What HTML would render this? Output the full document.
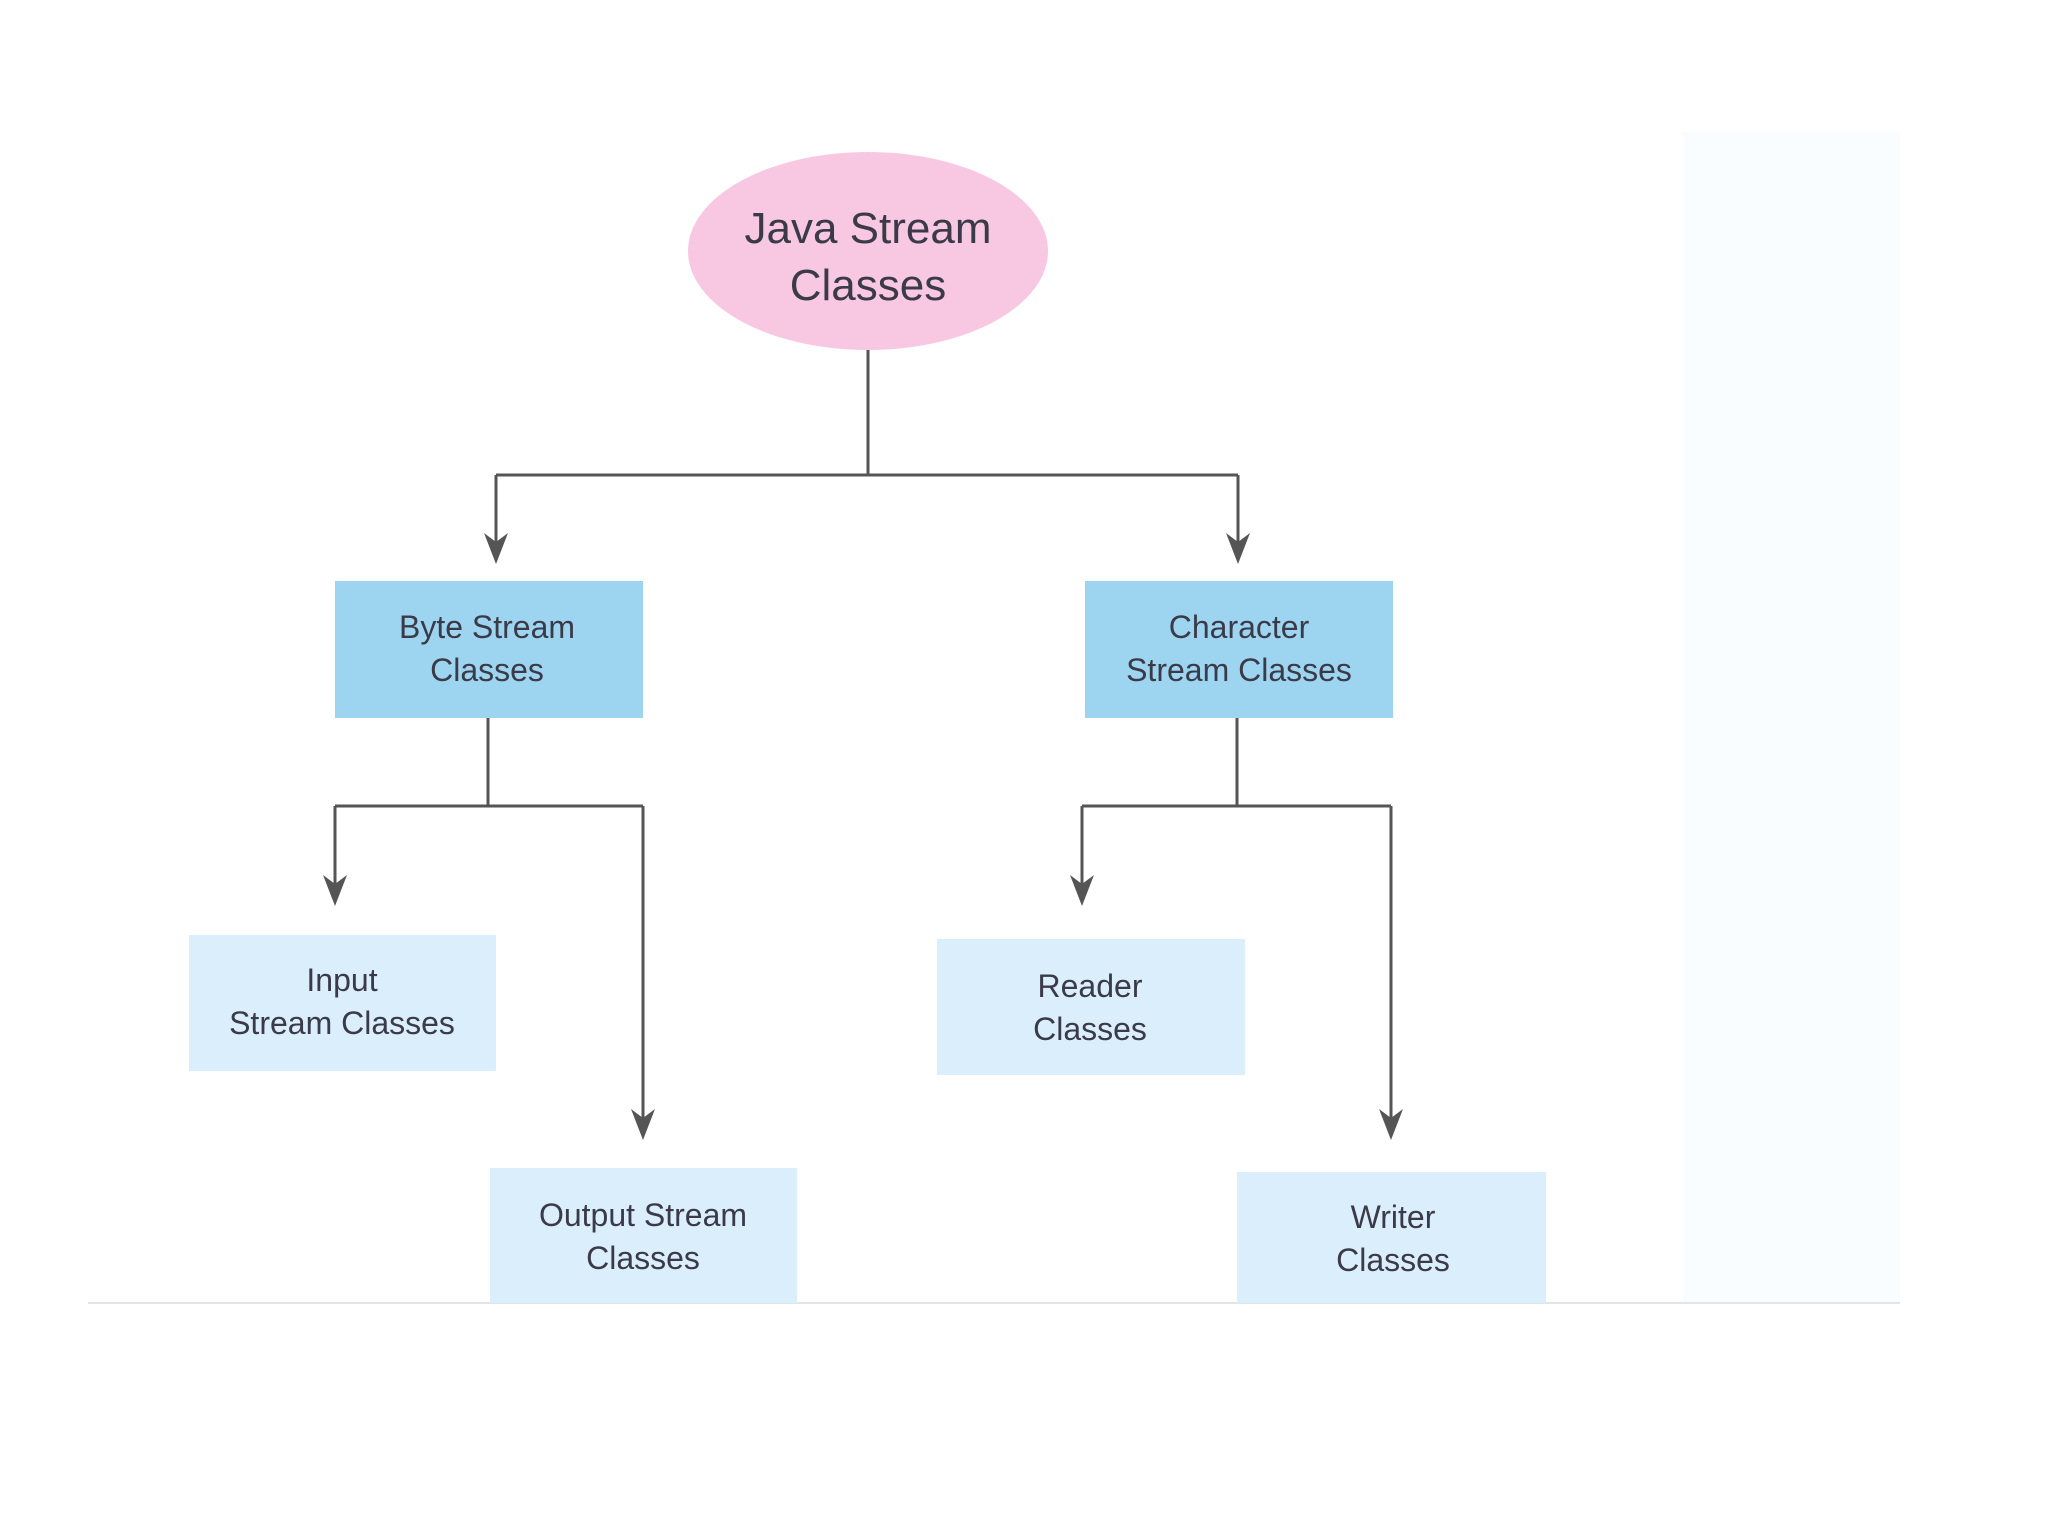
<!DOCTYPE html>
<html><head><meta charset="utf-8"><style>
html,body{margin:0;padding:0;background:#fff;}
svg{display:block}
text{font-family:"Liberation Sans",sans-serif;fill:#3b3a48;text-anchor:middle}
</style></head><body>
<svg width="2048" height="1536" viewBox="0 0 2048 1536" xmlns="http://www.w3.org/2000/svg">
<defs><marker id="a" markerWidth="10" markerHeight="14" refX="5" refY="14" orient="auto" markerUnits="userSpaceOnUse" viewBox="0 0 10 14"></marker></defs>
<rect x="1683" y="132" width="217" height="1171" fill="#fafdff"/>
<line x1="88" y1="1303" x2="1900" y2="1303" stroke="#e2e4e8" stroke-width="2"/>
<ellipse cx="868" cy="251" rx="180" ry="99" fill="#f8c8e2"/>
<text x="868" y="243" font-size="44">Java Stream</text>
<text x="868" y="300" font-size="44">Classes</text>
<g stroke="#555" stroke-width="3" fill="none">
<path d="M868 350V475M496 475H1238M496 475V550M1238 475V550"/>
<path d="M488 718V806M335 806H643M335 806V892M643 806V1126"/>
<path d="M1237 718V806M1082 806H1391M1082 806V892M1391 806V1126"/>
</g>
<g fill="#555">
<path d="M484 533L496 564L508 533L496 542Z"/>
<path d="M1226 533L1238 564L1250 533L1238 542Z"/>
<path d="M323 875L335 906L347 875L335 884Z"/>
<path d="M631 1109L643 1140L655 1109L643 1118Z"/>
<path d="M1070 875L1082 906L1094 875L1082 884Z"/>
<path d="M1379 1109L1391 1140L1403 1109L1391 1118Z"/>
</g>
<rect x="335" y="581" width="308" height="137" fill="#9dd5f1"/>
<rect x="1085" y="581" width="308" height="137" fill="#9dd5f1"/>
<rect x="189" y="935" width="307" height="136" fill="#dbeefb"/>
<rect x="490" y="1168" width="307" height="135" fill="#dbeefb"/>
<rect x="937" y="939" width="308" height="136" fill="#dbeefb"/>
<rect x="1237" y="1172" width="309" height="131" fill="#dbeefb"/>
<g font-size="32">
<text x="487" y="638">Byte Stream</text><text x="487" y="681">Classes</text>
<text x="1239" y="638">Character</text><text x="1239" y="681">Stream Classes</text>
<text x="342" y="991">Input</text><text x="342" y="1034">Stream Classes</text>
<text x="643" y="1226">Output Stream</text><text x="643" y="1269">Classes</text>
<text x="1090" y="997">Reader</text><text x="1090" y="1040">Classes</text>
<text x="1393" y="1228">Writer</text><text x="1393" y="1271">Classes</text>
</g>
</svg>
</body></html>
